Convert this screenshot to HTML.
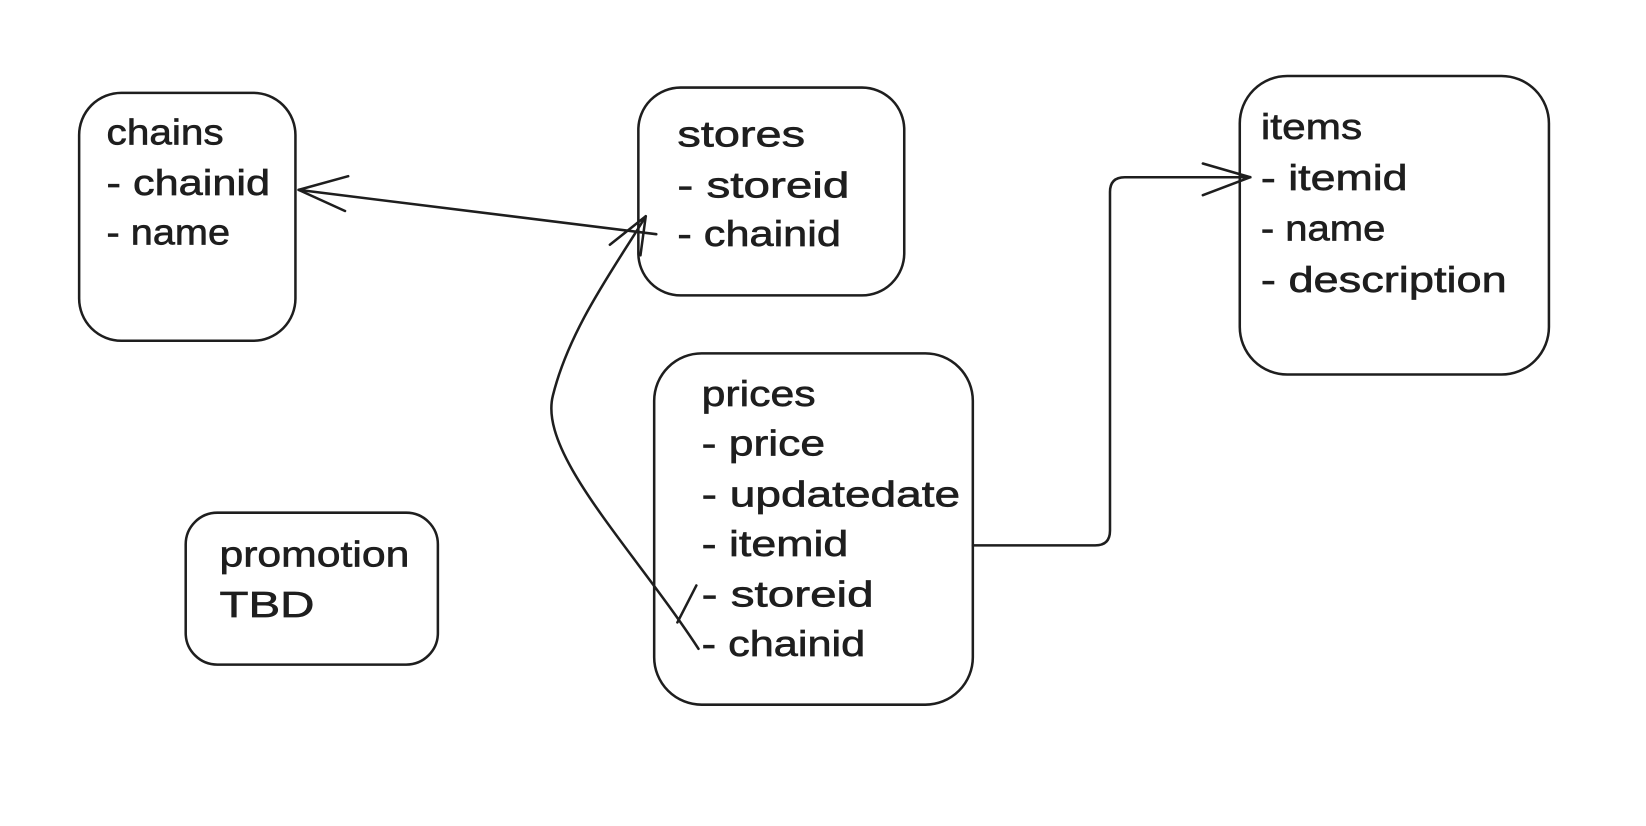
<!DOCTYPE html>
<html><head><meta charset="utf-8"><style>
html,body{margin:0;padding:0;background:#fff;}
svg{display:block;}
text{font-family:"Liberation Sans",sans-serif;font-size:34px;fill:#1e1e1e;stroke:#1e1e1e;stroke-width:0.6;}
</style></head><body>
<svg width="1646" height="826" viewBox="0 0 1560 783" preserveAspectRatio="none">
<g fill="none" stroke="#1e1e1e" stroke-width="2.4" stroke-linecap="round" stroke-linejoin="round">
<rect x="75" y="88" width="205" height="235" rx="40"/>
<rect x="605" y="83" width="252" height="197" rx="40"/>
<rect x="1175" y="72" width="293" height="283" rx="45"/>
<rect x="620" y="335" width="302" height="333" rx="45"/>
<rect x="176" y="486" width="239" height="144" rx="30"/>
<path d="M622 222 L283 180"/>
<path d="M283 180 L330 167 M283 180 L327 200"/>
<path d="M662 615 C600 520 510 430 524 375 C540 310 585 250 612 205"/>
<path d="M612 205 L578 232 M612 205 L607 242"/>
<path d="M642 590 L660 555"/>
<path d="M922 517 L1038 517 Q1052 517 1052 503 L1052 182 Q1052 168 1066 168 L1185 168"/>
<path d="M1185 168 L1140 155 M1185 168 L1140 185"/>
</g>
<g lengthAdjust="spacingAndGlyphs">
<text x="101" y="137" textLength="111" lengthAdjust="spacingAndGlyphs">chains</text>
<text x="101" y="185" textLength="155" lengthAdjust="spacingAndGlyphs">- chainid</text>
<text x="101" y="232" textLength="117" lengthAdjust="spacingAndGlyphs">- name</text>
<text x="642" y="139" textLength="121" lengthAdjust="spacingAndGlyphs">stores</text>
<text x="642" y="187" textLength="163" lengthAdjust="spacingAndGlyphs">- storeid</text>
<text x="642" y="233" textLength="155" lengthAdjust="spacingAndGlyphs">- chainid</text>
<text x="1195" y="132" textLength="96" lengthAdjust="spacingAndGlyphs">items</text>
<text x="1195" y="180" textLength="139" lengthAdjust="spacingAndGlyphs">- itemid</text>
<text x="1195" y="228" textLength="118" lengthAdjust="spacingAndGlyphs">- name</text>
<text x="1195" y="277" textLength="233" lengthAdjust="spacingAndGlyphs">- description</text>
<text x="665" y="385" textLength="108" lengthAdjust="spacingAndGlyphs">prices</text>
<text x="665" y="432" textLength="117" lengthAdjust="spacingAndGlyphs">- price</text>
<text x="665" y="480" textLength="245" lengthAdjust="spacingAndGlyphs">- updatedate</text>
<text x="665" y="527" textLength="139" lengthAdjust="spacingAndGlyphs">- itemid</text>
<text x="665" y="575" textLength="163" lengthAdjust="spacingAndGlyphs">- storeid</text>
<text x="665" y="622" textLength="155" lengthAdjust="spacingAndGlyphs">- chainid</text>
<text x="208" y="537" textLength="180" lengthAdjust="spacingAndGlyphs">promotion</text>
<text x="208" y="585" textLength="90" lengthAdjust="spacingAndGlyphs">TBD</text>
</g>
</svg>
</body></html>
